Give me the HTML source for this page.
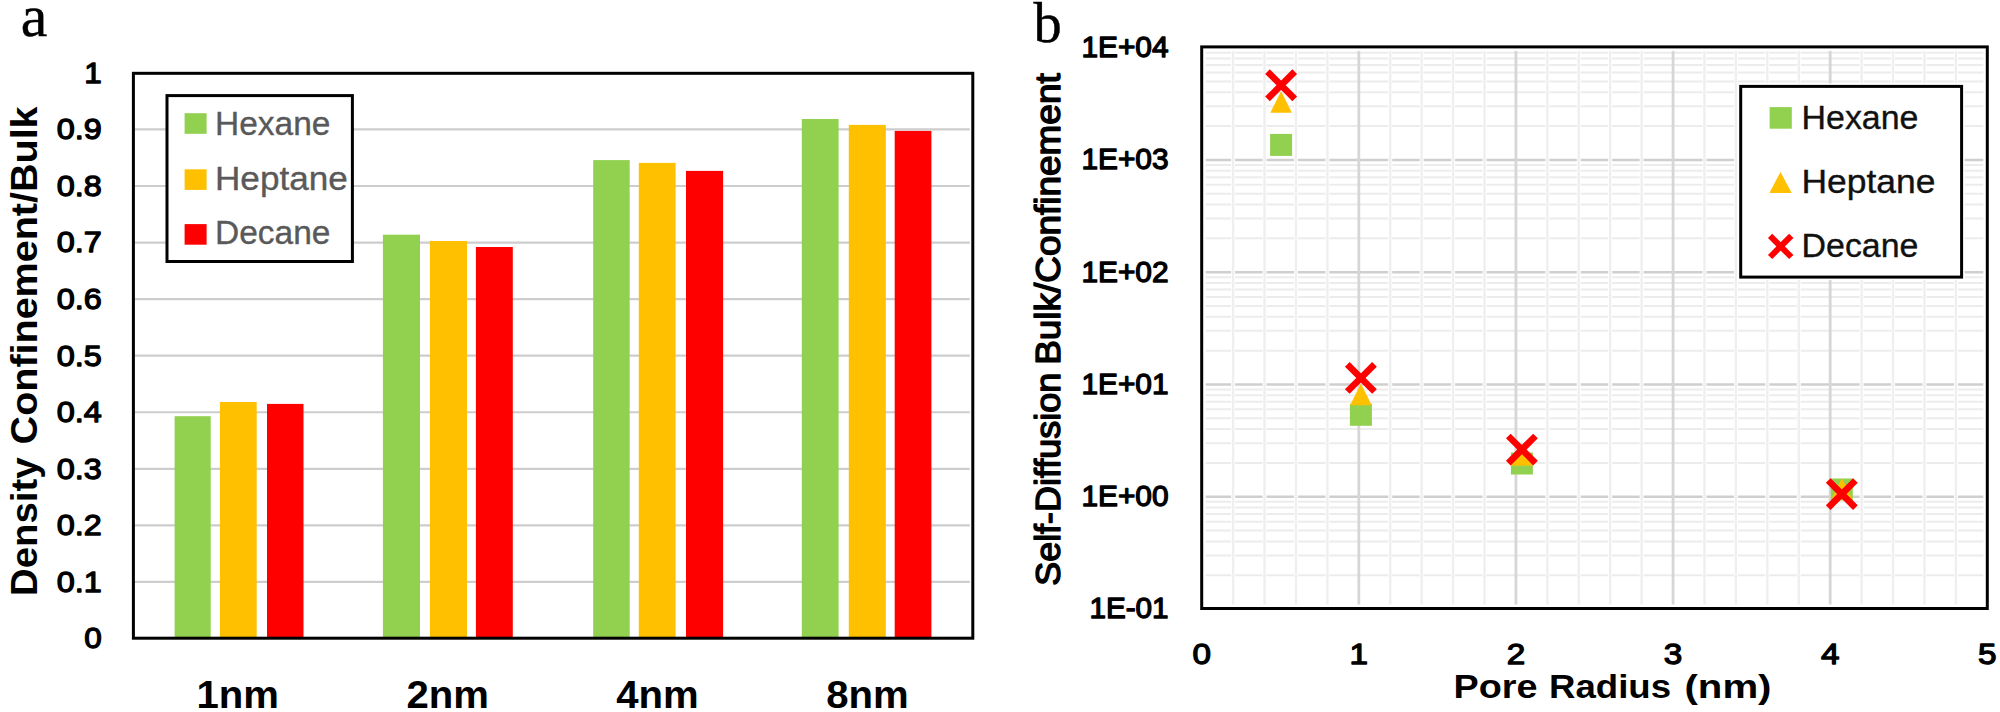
<!DOCTYPE html>
<html lang="en"><head><meta charset="utf-8"><title>Density and self-diffusion under confinement</title>
<style>html,body{margin:0;padding:0;background:#fff}svg{display:block}.s{font-family:"Liberation Sans",sans-serif}.b{font-family:"Liberation Sans",sans-serif;font-weight:bold}.r{font-family:"Liberation Serif",serif}</style></head><body>
<svg width="2000" height="712" viewBox="0 0 2000 712">
<rect width="2000" height="712" fill="#fff"/>
<g id="chartA">
<line x1="134.9" y1="581.94" x2="969.8" y2="581.94" stroke="#cdcdcd" stroke-width="2.2"/>
<line x1="134.9" y1="525.38" x2="969.8" y2="525.38" stroke="#cdcdcd" stroke-width="2.2"/>
<line x1="134.9" y1="468.82" x2="969.8" y2="468.82" stroke="#cdcdcd" stroke-width="2.2"/>
<line x1="134.9" y1="412.26" x2="969.8" y2="412.26" stroke="#cdcdcd" stroke-width="2.2"/>
<line x1="134.9" y1="355.70" x2="969.8" y2="355.70" stroke="#cdcdcd" stroke-width="2.2"/>
<line x1="134.9" y1="299.14" x2="969.8" y2="299.14" stroke="#cdcdcd" stroke-width="2.2"/>
<line x1="134.9" y1="242.58" x2="969.8" y2="242.58" stroke="#cdcdcd" stroke-width="2.2"/>
<line x1="134.9" y1="186.02" x2="969.8" y2="186.02" stroke="#cdcdcd" stroke-width="2.2"/>
<line x1="134.9" y1="129.46" x2="969.8" y2="129.46" stroke="#cdcdcd" stroke-width="2.2"/>
<rect x="174.6" y="416.2" width="36.1" height="222.0" fill="#92D050"/>
<rect x="219.9" y="402.0" width="36.8" height="236.2" fill="#FFC000"/>
<rect x="267.0" y="403.9" width="36.5" height="234.3" fill="#FF0000"/>
<rect x="382.9" y="234.7" width="37.1" height="403.5" fill="#92D050"/>
<rect x="429.9" y="241.0" width="37.1" height="397.2" fill="#FFC000"/>
<rect x="475.9" y="247.0" width="36.9" height="391.2" fill="#FF0000"/>
<rect x="593.2" y="160.1" width="36.5" height="478.1" fill="#92D050"/>
<rect x="638.8" y="162.9" width="36.8" height="475.3" fill="#FFC000"/>
<rect x="686.0" y="170.9" width="37.1" height="467.3" fill="#FF0000"/>
<rect x="801.8" y="119.0" width="36.8" height="519.2" fill="#92D050"/>
<rect x="848.8" y="124.9" width="37.0" height="513.3" fill="#FFC000"/>
<rect x="894.7" y="130.9" width="36.7" height="507.3" fill="#FF0000"/>
<rect x="133.4" y="73.3" width="839.4" height="564.9" fill="none" stroke="#000" stroke-width="3"/>
<text class="s" x="101.8" y="648.3" font-size="30" text-anchor="end" textLength="17.5" lengthAdjust="spacingAndGlyphs" stroke="#000" stroke-width="1.3" stroke-linejoin="round">0</text>
<text class="s" x="101.8" y="591.7" font-size="30" text-anchor="end" textLength="45.0" lengthAdjust="spacingAndGlyphs" stroke="#000" stroke-width="1.3" stroke-linejoin="round">0.1</text>
<text class="s" x="101.8" y="535.2" font-size="30" text-anchor="end" textLength="45.0" lengthAdjust="spacingAndGlyphs" stroke="#000" stroke-width="1.3" stroke-linejoin="round">0.2</text>
<text class="s" x="101.8" y="478.6" font-size="30" text-anchor="end" textLength="45.0" lengthAdjust="spacingAndGlyphs" stroke="#000" stroke-width="1.3" stroke-linejoin="round">0.3</text>
<text class="s" x="101.8" y="422.1" font-size="30" text-anchor="end" textLength="45.0" lengthAdjust="spacingAndGlyphs" stroke="#000" stroke-width="1.3" stroke-linejoin="round">0.4</text>
<text class="s" x="101.8" y="365.5" font-size="30" text-anchor="end" textLength="45.0" lengthAdjust="spacingAndGlyphs" stroke="#000" stroke-width="1.3" stroke-linejoin="round">0.5</text>
<text class="s" x="101.8" y="308.9" font-size="30" text-anchor="end" textLength="45.0" lengthAdjust="spacingAndGlyphs" stroke="#000" stroke-width="1.3" stroke-linejoin="round">0.6</text>
<text class="s" x="101.8" y="252.4" font-size="30" text-anchor="end" textLength="45.0" lengthAdjust="spacingAndGlyphs" stroke="#000" stroke-width="1.3" stroke-linejoin="round">0.7</text>
<text class="s" x="101.8" y="195.8" font-size="30" text-anchor="end" textLength="45.0" lengthAdjust="spacingAndGlyphs" stroke="#000" stroke-width="1.3" stroke-linejoin="round">0.8</text>
<text class="s" x="101.8" y="139.3" font-size="30" text-anchor="end" textLength="45.0" lengthAdjust="spacingAndGlyphs" stroke="#000" stroke-width="1.3" stroke-linejoin="round">0.9</text>
<text class="s" x="101.8" y="82.7" font-size="30" text-anchor="end" textLength="17.5" lengthAdjust="spacingAndGlyphs" stroke="#000" stroke-width="1.3" stroke-linejoin="round">1</text>
<text class="b" x="237.8" y="708.3" font-size="38.3" text-anchor="middle" textLength="82.5" lengthAdjust="spacingAndGlyphs">1nm</text>
<text class="b" x="447.7" y="708.3" font-size="38.3" text-anchor="middle" textLength="82.5" lengthAdjust="spacingAndGlyphs">2nm</text>
<text class="b" x="657.5" y="708.3" font-size="38.3" text-anchor="middle" textLength="82.5" lengthAdjust="spacingAndGlyphs">4nm</text>
<text class="b" x="867.4" y="708.3" font-size="38.3" text-anchor="middle" textLength="82.5" lengthAdjust="spacingAndGlyphs">8nm</text>
<text class="b" transform="translate(36.7,593.9) rotate(-90)" font-size="36"><tspan x="-2" textLength="138.5" lengthAdjust="spacingAndGlyphs">Density</tspan> <tspan x="149.5" textLength="338" lengthAdjust="spacingAndGlyphs">Confinement/Bulk</tspan></text>
<rect x="167" y="95.6" width="185.4" height="165.9" fill="#fff" stroke="#000" stroke-width="3"/>
<rect x="184.6" y="113.2" width="22" height="20.6" fill="#92D050"/>
<text class="s" x="215" y="134.8" font-size="33" fill="#595959" stroke="#595959" stroke-width="0.35" textLength="115.4" lengthAdjust="spacingAndGlyphs">Hexane</text>
<rect x="184.6" y="169.3" width="22" height="20.6" fill="#FFC000"/>
<text class="s" x="215" y="189.6" font-size="33" fill="#595959" stroke="#595959" stroke-width="0.35" textLength="132.8" lengthAdjust="spacingAndGlyphs">Heptane</text>
<rect x="184.6" y="224.1" width="22" height="20.6" fill="#FF0000"/>
<text class="s" x="215" y="244.4" font-size="33" fill="#595959" stroke="#595959" stroke-width="0.35" textLength="115.4" lengthAdjust="spacingAndGlyphs">Decane</text>
<text class="r" x="20.8" y="36.4" font-size="60" stroke="#000" stroke-width="0.4">a</text>
</g>
<g id="chartB">
<line x1="1205.7" y1="575.20" x2="1983.3" y2="575.20" stroke="#ececec" stroke-width="2"/>
<line x1="1205.7" y1="555.43" x2="1983.3" y2="555.43" stroke="#ececec" stroke-width="2"/>
<line x1="1205.7" y1="541.40" x2="1983.3" y2="541.40" stroke="#ececec" stroke-width="2"/>
<line x1="1205.7" y1="530.52" x2="1983.3" y2="530.52" stroke="#ececec" stroke-width="2"/>
<line x1="1205.7" y1="521.63" x2="1983.3" y2="521.63" stroke="#ececec" stroke-width="2"/>
<line x1="1205.7" y1="514.11" x2="1983.3" y2="514.11" stroke="#ececec" stroke-width="2"/>
<line x1="1205.7" y1="507.60" x2="1983.3" y2="507.60" stroke="#ececec" stroke-width="2"/>
<line x1="1205.7" y1="501.86" x2="1983.3" y2="501.86" stroke="#ececec" stroke-width="2"/>
<line x1="1205.7" y1="462.92" x2="1983.3" y2="462.92" stroke="#ececec" stroke-width="2"/>
<line x1="1205.7" y1="443.15" x2="1983.3" y2="443.15" stroke="#ececec" stroke-width="2"/>
<line x1="1205.7" y1="429.12" x2="1983.3" y2="429.12" stroke="#ececec" stroke-width="2"/>
<line x1="1205.7" y1="418.24" x2="1983.3" y2="418.24" stroke="#ececec" stroke-width="2"/>
<line x1="1205.7" y1="409.35" x2="1983.3" y2="409.35" stroke="#ececec" stroke-width="2"/>
<line x1="1205.7" y1="401.83" x2="1983.3" y2="401.83" stroke="#ececec" stroke-width="2"/>
<line x1="1205.7" y1="395.32" x2="1983.3" y2="395.32" stroke="#ececec" stroke-width="2"/>
<line x1="1205.7" y1="389.58" x2="1983.3" y2="389.58" stroke="#ececec" stroke-width="2"/>
<line x1="1205.7" y1="350.64" x2="1983.3" y2="350.64" stroke="#ececec" stroke-width="2"/>
<line x1="1205.7" y1="330.87" x2="1983.3" y2="330.87" stroke="#ececec" stroke-width="2"/>
<line x1="1205.7" y1="316.84" x2="1983.3" y2="316.84" stroke="#ececec" stroke-width="2"/>
<line x1="1205.7" y1="305.96" x2="1983.3" y2="305.96" stroke="#ececec" stroke-width="2"/>
<line x1="1205.7" y1="297.07" x2="1983.3" y2="297.07" stroke="#ececec" stroke-width="2"/>
<line x1="1205.7" y1="289.55" x2="1983.3" y2="289.55" stroke="#ececec" stroke-width="2"/>
<line x1="1205.7" y1="283.04" x2="1983.3" y2="283.04" stroke="#ececec" stroke-width="2"/>
<line x1="1205.7" y1="277.30" x2="1983.3" y2="277.30" stroke="#ececec" stroke-width="2"/>
<line x1="1205.7" y1="238.36" x2="1983.3" y2="238.36" stroke="#ececec" stroke-width="2"/>
<line x1="1205.7" y1="218.59" x2="1983.3" y2="218.59" stroke="#ececec" stroke-width="2"/>
<line x1="1205.7" y1="204.56" x2="1983.3" y2="204.56" stroke="#ececec" stroke-width="2"/>
<line x1="1205.7" y1="193.68" x2="1983.3" y2="193.68" stroke="#ececec" stroke-width="2"/>
<line x1="1205.7" y1="184.79" x2="1983.3" y2="184.79" stroke="#ececec" stroke-width="2"/>
<line x1="1205.7" y1="177.27" x2="1983.3" y2="177.27" stroke="#ececec" stroke-width="2"/>
<line x1="1205.7" y1="170.76" x2="1983.3" y2="170.76" stroke="#ececec" stroke-width="2"/>
<line x1="1205.7" y1="165.02" x2="1983.3" y2="165.02" stroke="#ececec" stroke-width="2"/>
<line x1="1205.7" y1="126.08" x2="1983.3" y2="126.08" stroke="#ececec" stroke-width="2"/>
<line x1="1205.7" y1="106.31" x2="1983.3" y2="106.31" stroke="#ececec" stroke-width="2"/>
<line x1="1205.7" y1="92.28" x2="1983.3" y2="92.28" stroke="#ececec" stroke-width="2"/>
<line x1="1205.7" y1="81.40" x2="1983.3" y2="81.40" stroke="#ececec" stroke-width="2"/>
<line x1="1205.7" y1="72.51" x2="1983.3" y2="72.51" stroke="#ececec" stroke-width="2"/>
<line x1="1205.7" y1="64.99" x2="1983.3" y2="64.99" stroke="#ececec" stroke-width="2"/>
<line x1="1205.7" y1="58.48" x2="1983.3" y2="58.48" stroke="#ececec" stroke-width="2"/>
<line x1="1205.7" y1="52.74" x2="1983.3" y2="52.74" stroke="#ececec" stroke-width="2"/>
<line x1="1205.7" y1="496.72" x2="1983.3" y2="496.72" stroke="#cfcfcf" stroke-width="2.5"/>
<line x1="1205.7" y1="384.44" x2="1983.3" y2="384.44" stroke="#cfcfcf" stroke-width="2.5"/>
<line x1="1205.7" y1="272.16" x2="1983.3" y2="272.16" stroke="#cfcfcf" stroke-width="2.5"/>
<line x1="1205.7" y1="159.88" x2="1983.3" y2="159.88" stroke="#cfcfcf" stroke-width="2.5"/>
<line x1="1233.12" y1="50.9" x2="1233.12" y2="604.5" stroke="#fff" stroke-width="4"/>
<line x1="1233.12" y1="50.9" x2="1233.12" y2="604.5" stroke="#efefef" stroke-width="2.4"/>
<line x1="1264.55" y1="50.9" x2="1264.55" y2="604.5" stroke="#fff" stroke-width="4"/>
<line x1="1264.55" y1="50.9" x2="1264.55" y2="604.5" stroke="#efefef" stroke-width="2.4"/>
<line x1="1295.97" y1="50.9" x2="1295.97" y2="604.5" stroke="#fff" stroke-width="4"/>
<line x1="1295.97" y1="50.9" x2="1295.97" y2="604.5" stroke="#efefef" stroke-width="2.4"/>
<line x1="1327.40" y1="50.9" x2="1327.40" y2="604.5" stroke="#fff" stroke-width="4"/>
<line x1="1327.40" y1="50.9" x2="1327.40" y2="604.5" stroke="#efefef" stroke-width="2.4"/>
<line x1="1390.24" y1="50.9" x2="1390.24" y2="604.5" stroke="#fff" stroke-width="4"/>
<line x1="1390.24" y1="50.9" x2="1390.24" y2="604.5" stroke="#efefef" stroke-width="2.4"/>
<line x1="1421.67" y1="50.9" x2="1421.67" y2="604.5" stroke="#fff" stroke-width="4"/>
<line x1="1421.67" y1="50.9" x2="1421.67" y2="604.5" stroke="#efefef" stroke-width="2.4"/>
<line x1="1453.09" y1="50.9" x2="1453.09" y2="604.5" stroke="#fff" stroke-width="4"/>
<line x1="1453.09" y1="50.9" x2="1453.09" y2="604.5" stroke="#efefef" stroke-width="2.4"/>
<line x1="1484.52" y1="50.9" x2="1484.52" y2="604.5" stroke="#fff" stroke-width="4"/>
<line x1="1484.52" y1="50.9" x2="1484.52" y2="604.5" stroke="#efefef" stroke-width="2.4"/>
<line x1="1547.36" y1="50.9" x2="1547.36" y2="604.5" stroke="#fff" stroke-width="4"/>
<line x1="1547.36" y1="50.9" x2="1547.36" y2="604.5" stroke="#efefef" stroke-width="2.4"/>
<line x1="1578.79" y1="50.9" x2="1578.79" y2="604.5" stroke="#fff" stroke-width="4"/>
<line x1="1578.79" y1="50.9" x2="1578.79" y2="604.5" stroke="#efefef" stroke-width="2.4"/>
<line x1="1610.21" y1="50.9" x2="1610.21" y2="604.5" stroke="#fff" stroke-width="4"/>
<line x1="1610.21" y1="50.9" x2="1610.21" y2="604.5" stroke="#efefef" stroke-width="2.4"/>
<line x1="1641.64" y1="50.9" x2="1641.64" y2="604.5" stroke="#fff" stroke-width="4"/>
<line x1="1641.64" y1="50.9" x2="1641.64" y2="604.5" stroke="#efefef" stroke-width="2.4"/>
<line x1="1704.48" y1="50.9" x2="1704.48" y2="604.5" stroke="#fff" stroke-width="4"/>
<line x1="1704.48" y1="50.9" x2="1704.48" y2="604.5" stroke="#efefef" stroke-width="2.4"/>
<line x1="1735.91" y1="50.9" x2="1735.91" y2="604.5" stroke="#fff" stroke-width="4"/>
<line x1="1735.91" y1="50.9" x2="1735.91" y2="604.5" stroke="#efefef" stroke-width="2.4"/>
<line x1="1767.33" y1="50.9" x2="1767.33" y2="604.5" stroke="#fff" stroke-width="4"/>
<line x1="1767.33" y1="50.9" x2="1767.33" y2="604.5" stroke="#efefef" stroke-width="2.4"/>
<line x1="1798.76" y1="50.9" x2="1798.76" y2="604.5" stroke="#fff" stroke-width="4"/>
<line x1="1798.76" y1="50.9" x2="1798.76" y2="604.5" stroke="#efefef" stroke-width="2.4"/>
<line x1="1861.60" y1="50.9" x2="1861.60" y2="604.5" stroke="#fff" stroke-width="4"/>
<line x1="1861.60" y1="50.9" x2="1861.60" y2="604.5" stroke="#efefef" stroke-width="2.4"/>
<line x1="1893.03" y1="50.9" x2="1893.03" y2="604.5" stroke="#fff" stroke-width="4"/>
<line x1="1893.03" y1="50.9" x2="1893.03" y2="604.5" stroke="#efefef" stroke-width="2.4"/>
<line x1="1924.45" y1="50.9" x2="1924.45" y2="604.5" stroke="#fff" stroke-width="4"/>
<line x1="1924.45" y1="50.9" x2="1924.45" y2="604.5" stroke="#efefef" stroke-width="2.4"/>
<line x1="1955.88" y1="50.9" x2="1955.88" y2="604.5" stroke="#fff" stroke-width="4"/>
<line x1="1955.88" y1="50.9" x2="1955.88" y2="604.5" stroke="#efefef" stroke-width="2.4"/>
<line x1="1358.82" y1="50.9" x2="1358.82" y2="604.5" stroke="#d6d6d6" stroke-width="2.8"/>
<line x1="1515.94" y1="50.9" x2="1515.94" y2="604.5" stroke="#d6d6d6" stroke-width="2.8"/>
<line x1="1673.06" y1="50.9" x2="1673.06" y2="604.5" stroke="#d6d6d6" stroke-width="2.8"/>
<line x1="1830.18" y1="50.9" x2="1830.18" y2="604.5" stroke="#d6d6d6" stroke-width="2.8"/>
<rect x="1270.1" y="133.9" width="22" height="22" fill="#92D050"/>
<rect x="1349.9" y="403.8" width="22" height="22" fill="#92D050"/>
<rect x="1510.9" y="452.5" width="22" height="22" fill="#92D050"/>
<rect x="1830.8" y="478.5" width="22" height="22" fill="#92D050"/>
<path d="M1281.1 91.3L1291.9 112.7L1270.3 112.7Z" fill="#FFC000"/>
<path d="M1360.9 383.8L1371.7 405.2L1350.1 405.2Z" fill="#FFC000"/>
<path d="M1521.9 444.3L1532.7 465.7L1511.1 465.7Z" fill="#FFC000"/>
<path d="M1841.8 478.3L1852.6 499.7L1831.0 499.7Z" fill="#FFC000"/>
<path d="M1267.5 71.6L1294.7 98.8M1267.5 98.8L1294.7 71.6" stroke="#FF0000" stroke-width="6.6" fill="none"/>
<path d="M1347.3 364.3L1374.5 391.5M1347.3 391.5L1374.5 364.3" stroke="#FF0000" stroke-width="6.6" fill="none"/>
<path d="M1508.3 436.0L1535.5 463.2M1508.3 463.2L1535.5 436.0" stroke="#FF0000" stroke-width="6.6" fill="none"/>
<path d="M1828.2 480.5L1855.4 507.7M1828.2 507.7L1855.4 480.5" stroke="#FF0000" stroke-width="6.6" fill="none"/>
<rect x="1201.7" y="46.9" width="785.6" height="561.6" fill="none" stroke="#000" stroke-width="3"/>
<text class="s" x="1168.6" y="56.9" font-size="29.6" text-anchor="end" textLength="87.2" lengthAdjust="spacingAndGlyphs" stroke="#000" stroke-width="1.3" stroke-linejoin="round">1E+04</text>
<text class="s" x="1168.6" y="169.2" font-size="29.6" text-anchor="end" textLength="87.2" lengthAdjust="spacingAndGlyphs" stroke="#000" stroke-width="1.3" stroke-linejoin="round">1E+03</text>
<text class="s" x="1168.6" y="281.5" font-size="29.6" text-anchor="end" textLength="87.2" lengthAdjust="spacingAndGlyphs" stroke="#000" stroke-width="1.3" stroke-linejoin="round">1E+02</text>
<text class="s" x="1168.6" y="393.7" font-size="29.6" text-anchor="end" textLength="87.2" lengthAdjust="spacingAndGlyphs" stroke="#000" stroke-width="1.3" stroke-linejoin="round">1E+01</text>
<text class="s" x="1168.6" y="506.0" font-size="29.6" text-anchor="end" textLength="87.2" lengthAdjust="spacingAndGlyphs" stroke="#000" stroke-width="1.3" stroke-linejoin="round">1E+00</text>
<text class="s" x="1168.6" y="618.3" font-size="29.6" text-anchor="end" textLength="79.2" lengthAdjust="spacingAndGlyphs" stroke="#000" stroke-width="1.3" stroke-linejoin="round">1E-01</text>
<text class="s" x="1201.7" y="664.4" font-size="30" text-anchor="middle" textLength="18.5" lengthAdjust="spacingAndGlyphs" stroke="#000" stroke-width="1.3" stroke-linejoin="round">0</text>
<text class="s" x="1358.8" y="664.4" font-size="30" text-anchor="middle" textLength="18.5" lengthAdjust="spacingAndGlyphs" stroke="#000" stroke-width="1.3" stroke-linejoin="round">1</text>
<text class="s" x="1515.9" y="664.4" font-size="30" text-anchor="middle" textLength="18.5" lengthAdjust="spacingAndGlyphs" stroke="#000" stroke-width="1.3" stroke-linejoin="round">2</text>
<text class="s" x="1673.1" y="664.4" font-size="30" text-anchor="middle" textLength="18.5" lengthAdjust="spacingAndGlyphs" stroke="#000" stroke-width="1.3" stroke-linejoin="round">3</text>
<text class="s" x="1830.2" y="664.4" font-size="30" text-anchor="middle" textLength="18.5" lengthAdjust="spacingAndGlyphs" stroke="#000" stroke-width="1.3" stroke-linejoin="round">4</text>
<text class="s" x="1987.3" y="664.4" font-size="30" text-anchor="middle" textLength="18.5" lengthAdjust="spacingAndGlyphs" stroke="#000" stroke-width="1.3" stroke-linejoin="round">5</text>
<text class="b" y="698.1" font-size="34"><tspan x="1453.5" textLength="84" lengthAdjust="spacingAndGlyphs">Pore</tspan> <tspan x="1549" textLength="122" lengthAdjust="spacingAndGlyphs">Radius</tspan> <tspan x="1684.5" textLength="87" lengthAdjust="spacingAndGlyphs">(nm)</tspan></text>
<text class="s" transform="translate(1060.3,584.3) rotate(-90)" font-size="34.5" stroke="#000" stroke-width="1.4" stroke-linejoin="round"><tspan x="-1.5" textLength="213" lengthAdjust="spacingAndGlyphs">Self-Diffusion</tspan> <tspan x="219.5" textLength="291.5" lengthAdjust="spacingAndGlyphs">Bulk/Confinement</tspan></text>
<rect x="1737.7" y="83.4" width="227" height="196.7" fill="#fff"/>
<rect x="1740.7" y="86.4" width="220.9" height="190.7" fill="#fff" stroke="#000" stroke-width="3"/>
<rect x="1769.6" y="107.1" width="22.2" height="21.6" fill="#92D050"/>
<path d="M1780.5 171.9L1791.7 193L1769.4 193Z" fill="#FFC000"/>
<path d="M1770.1000000000001 235.8L1791.3 257.0M1770.1000000000001 257.0L1791.3 235.8" stroke="#FF0000" stroke-width="6" fill="none"/>
<text class="s" x="1801.5" y="128.7" font-size="33.6" fill="#111" stroke="#111" stroke-width="0.35" textLength="117" lengthAdjust="spacingAndGlyphs">Hexane</text>
<text class="s" x="1801.5" y="192.6" font-size="33.6" fill="#111" stroke="#111" stroke-width="0.35" textLength="134" lengthAdjust="spacingAndGlyphs">Heptane</text>
<text class="s" x="1801.5" y="256.9" font-size="33.6" fill="#111" stroke="#111" stroke-width="0.35" textLength="117" lengthAdjust="spacingAndGlyphs">Decane</text>
<text class="r" x="1033.6" y="42.4" font-size="56.5" stroke="#000" stroke-width="0.4">b</text>
</g>
</svg></body></html>
